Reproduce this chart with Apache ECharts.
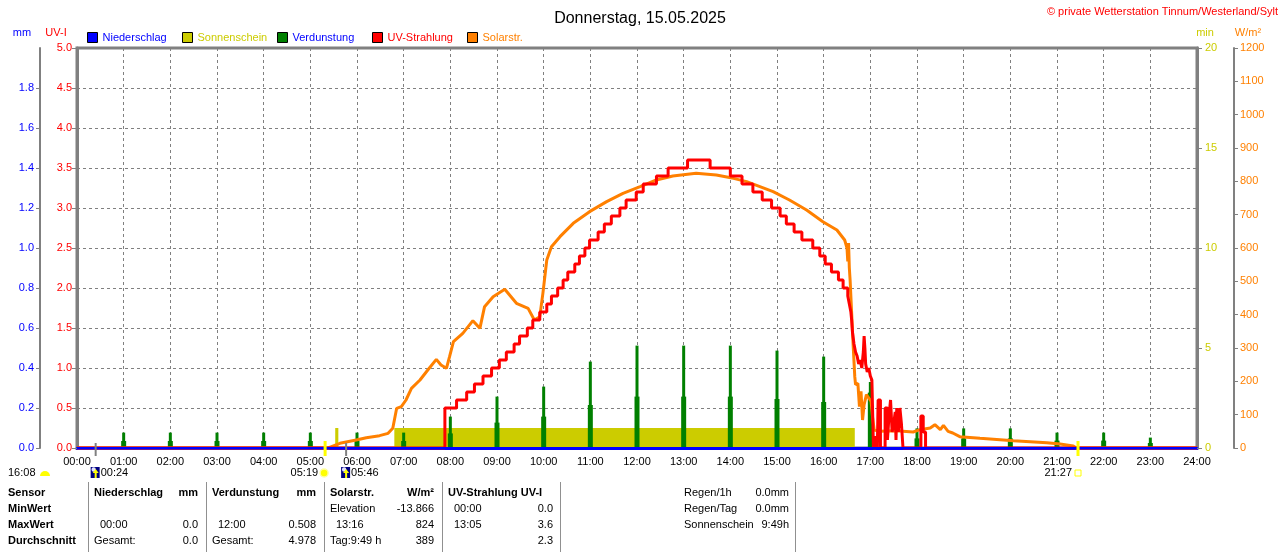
<!DOCTYPE html>
<html><head><meta charset="utf-8">
<script src="https://cdn.jsdelivr.net/npm/echarts/dist/echarts.min.js"></script>
<style>html,body{margin:0;padding:0;background:#fff}#c{width:1280px;height:552px}</style>
</head><body><div id="c"></div>
<script>
const FONT = '"Liberation Sans", Arial, sans-serif';
const titleText = 'Donnerstag, 15.05.2025';
const copyrightText = '\u00A9 private Wetterstation Tinnum/Westerland/Sylt';
const legendNames = ['Niederschlag','Sonnenschein','Verdunstung','UV-Strahlung','Solarstr.'];
const legendTextColors = ['#0000ff','#cccc00','#0000ff','#ff0000','#ff8000'];
const hourLabels = ['00:00','01:00','02:00','03:00','04:00','05:00','06:00','07:00','08:00','09:00','10:00','11:00','12:00','13:00','14:00','15:00','16:00','17:00','18:00','19:00','20:00','21:00','22:00','23:00','24:00'];

// precipitation (mm) - minutes of day
const rainData = [[0,0],[1440,0]];
// sunshine (min per minute) interval edges
const sunData = [[332,0],[332,1],[336,1],[336,0],[408,0],[408,1],[1000,1],[1000,0]];
// evaporation (mm) per hour
const evapTimes = [60,120,180,240,300,360,420,480,540,600,660,720,780,840,900,960,1020,1080,1140,1200,1260,1320,1380];
const evapMain  = [0.077,0.077,0.077,0.077,0.077,0.077,0.077,0.157,0.257,0.307,0.432,0.512,0.512,0.512,0.487,0.457,0.33,0.098,0.098,0.098,0.077,0.077,0.052];
const evapPart  = [0.035,0.035,0.035,0.035,0.035,0.035,0.035,0.073,0.127,0.157,0.215,0.257,0.257,0.257,0.245,0.23,0.277,0.048,0.048,0.048,0.037,0.037,0.025];
// UV index (step changes)
const uvData = [[0,0],[473,0.5],[488,0.6],[501,0.7],[511,0.8],[522,0.9],[533,1.0],[543,1.1],[552,1.2],[562,1.3],[569,1.4],[579,1.5],[586,1.6],[595,1.7],[604,1.8],[610,1.9],[618,2.0],[625,2.1],[631,2.2],[640,2.3],[646,2.4],[653,2.5],[659,2.6],[670,2.7],[678,2.8],[687,2.9],[698,3.0],[706,3.1],[719,3.2],[728,3.3],[745,3.4],[760,3.5],[785,3.6],[814,3.5],[840,3.4],[855,3.3],[869,3.2],[881,3.1],[893,3.0],[904,2.9],[912,2.8],[922,2.7],[932,2.6],[946,2.5],[955,2.4],[962,2.3],[970,2.2],[979,2.1],[985,2.0],[991,1.9],[993,1.8],[995,1.7],[996,1.6],[997,1.45],[999,1.3],[1001,1.2],[1003,1.15],[1005,1.05],[1007,1.1],[1009,1.0],[1011,1.2],[1012,1.4],[1013,1.25],[1014,1.05],[1016,0.95],[1018,1.0],[1020,0.9],[1022,0.85],[1024,0],[1027,0.15],[1029,0],[1030,0.6],[1033,0],[1039,0.5],[1042,0.1],[1044,0.4],[1046,0.6],[1048,0.2],[1050,0.3],[1052,0.45],[1053,0.1],[1054,0.5],[1056,0.2],[1058,0.5],[1060,0.3],[1062,0],[1085,0.4],[1088,0.2],[1091,0],[1440,0]];
// solar radiation (W/m2)
const solarData = [[0,0],[323,0],[325,6],[338,14],[359,24],[372,31],[389,37],[400,44],[406,59],[411,119],[417,124],[423,144],[430,179],[441,204],[451,234],[462,266],[468,249],[475,239],[479,274],[484,319],[496,344],[509,382],[518,359],[524,424],[535,454],[550,476],[565,434],[580,419],[588,384],[595,394],[599,464],[604,564],[610,604],[621,634],[638,674],[659,709],[681,739],[702,764],[724,784],[745,804],[766,816],[796,824],[822,819],[844,809],[861,799],[878,784],[895,769],[916,744],[938,714],[959,679],[977,654],[987,624],[990,600],[991,560],[992,615],[993,540],[994,504],[996,404],[998,304],[1000,214],[1001,190],[1004,194],[1006,124],[1008,170],[1010,84],[1012,130],[1015,160],[1018,150],[1021,140],[1023,90],[1025,54],[1032,50],[1053,52],[1075,48],[1084,55],[1097,60],[1103,70],[1110,55],[1114,68],[1120,50],[1126,45],[1135,34],[1161,29],[1204,22],[1247,16],[1264,12],[1281,6],[1285,0],[1440,0]];

// astronomical events below axis
const sunRise = {t:319, label:'05:19'};
const sunSet  = {t:1287, label:'21:27'};
const moonA   = {t:24, label:'00:24'};
const moonB   = {t:346, label:'05:46'};
const moonPrev = '16:08';

// table texts
const rowLabels = ['Sensor','MinWert','MaxWert','Durchschnitt'];
const colNied = [['Niederschlag','mm'],['',''],['00:00','0.0'],['Gesamt:','0.0']];
const colVerd = [['Verdunstung','mm'],['',''],['12:00','0.508'],['Gesamt:','4.978']];
const colSol  = [['Solarstr.','W/m\u00B2'],['Elevation','-13.866'],['13:16','824'],['Tag:9:49 h','389']];
const colUV   = [['UV-Strahlung UV-I',''],['00:00','0.0'],['13:05','3.6'],['','2.3']];
const extraInfo = [['Regen/1h','0.0mm'],['Regen/Tag','0.0mm'],['Sonnenschein','9:49h']];

const chart = echarts.init(document.getElementById('c'));
const grey = '#808080';
const dash = [3,3];

const option = {
  animation:false,
  textStyle:{fontFamily:FONT},
  title:{text:titleText,left:'center',top:6,textStyle:{fontSize:16,fontWeight:'normal',color:'#000',fontFamily:FONT}},
  legend: legendNames.map((n,i)=>({data:[n],left:87+95*i,top:32,padding:0,itemWidth:10,itemHeight:10,icon:'rect',selectedMode:false,
    textStyle:{color:legendTextColors[i],fontSize:11,fontFamily:FONT},itemStyle:{borderColor:'#000',borderWidth:1}})),
  grid:{left:77,right:83,top:48,bottom:104,show:true,borderColor:grey,borderWidth:3,backgroundColor:'transparent'},
  xAxis:{type:'value',min:0,max:1440,interval:60,
    axisLine:{show:true,lineStyle:{color:'#0000ff',width:3}},axisTick:{show:false},
    axisLabel:{margin:8,color:'#000',fontSize:11,fontFamily:FONT,formatter:v=>hourLabels[Math.round(v/60)]},
    splitLine:{show:true,lineStyle:{color:grey,type:dash,width:1}}},
  yAxis:[
    {type:'value',position:'left',offset:0,min:0,max:5,interval:0.5,
      axisLine:{show:true,lineStyle:{color:grey,width:3}},axisTick:{show:true,length:5,lineStyle:{color:grey}},
      axisLabel:{color:'#ff0000',fontSize:11,margin:5,formatter:v=>v.toFixed(1)},
      splitLine:{show:true,lineStyle:{color:grey,type:dash,width:1}}},
    {type:'value',position:'left',offset:37,min:0,max:2,interval:0.2,
      axisLine:{show:true,lineStyle:{color:grey,width:2}},axisTick:{show:true,length:4,lineStyle:{color:grey}},
      axisLabel:{color:'#0000ff',fontSize:11,margin:6,showMaxLabel:false,formatter:v=>v.toFixed(1)},
      splitLine:{show:false}},
    {type:'value',position:'right',offset:0,min:0,max:20,interval:5,
      axisLine:{show:true,lineStyle:{color:grey,width:3}},axisTick:{show:true,length:5,lineStyle:{color:grey}},
      axisLabel:{color:'#cccc00',fontSize:11,margin:8,formatter:v=>String(v)},splitLine:{show:false}},
    {type:'value',position:'right',offset:37,min:0,max:1200,interval:100,
      axisLine:{show:true,lineStyle:{color:grey,width:2}},axisTick:{show:true,length:4,lineStyle:{color:grey}},
      axisLabel:{color:'#ff8000',fontSize:11,margin:6,formatter:v=>String(v)},splitLine:{show:false}}
  ],
  series:[
    {name:'Sonnenschein',type:'line',yAxisIndex:2,data:sunData,symbol:'none',z:1,
      lineStyle:{width:0,color:'#cccc00'},itemStyle:{color:'#cccc00'},areaStyle:{color:'#cccc00',opacity:1}},
    {name:'Verdunstung',type:'custom',yAxisIndex:1,z:2,itemStyle:{color:'#008000'},
      encode:{x:0,y:1},
      data:evapTimes.map((t,i)=>[t,evapMain[i],evapPart[i]]),
      renderItem:(params,api)=>{
        const t=api.value(0),hi=api.value(1),lo=api.value(2);
        const b=api.coord([t,0]),ph=api.coord([t,hi]),pl=api.coord([t,lo]);
        const col='#008000';
        return {type:'group',children:[
          {type:'rect',shape:{x:b[0]-2.5,y:pl[1],width:5,height:b[1]-pl[1]},style:{fill:col}},
          {type:'rect',shape:{x:b[0]-1.5,y:ph[1],width:3,height:b[1]-ph[1]},style:{fill:col}}
        ]};
      }},
    {name:'Solarstr.',type:'line',yAxisIndex:3,data:solarData,symbol:'none',z:3,
      lineStyle:{color:'#ff8000',width:3},itemStyle:{color:'#ff8000'}},
    {name:'UV-Strahlung',type:'line',yAxisIndex:0,step:'end',data:uvData,symbol:'none',z:4,
      lineStyle:{color:'#ff0000',width:3},itemStyle:{color:'#ff0000'}},
    {name:'Niederschlag',type:'line',yAxisIndex:1,data:rainData,symbol:'none',z:5,clip:false,
      lineStyle:{color:'#0000ff',width:2},itemStyle:{color:'#0000ff'}}
  ]
};
chart.setOption(option);

const px = t => chart.convertToPixel({xAxisIndex:0}, t);
const f11 = '11px ' + FONT;
const b11 = 'bold 11px ' + FONT;
function txt(text,x,y,color,align,font){
  return {type:'text',silent:true,style:{text:text,x:x,y:y,fill:color||'#000',font:font||f11,textAlign:align||'left',textVerticalAlign:'middle',verticalAlign:'middle'}};
}
const g = [];
// axis titles & copyright
g.push(txt('mm',22,33,'#0000ff','center'));
g.push(txt('UV-I',56,33,'#ff0000','center'));
g.push(txt('min',1205,33,'#cccc00','center'));
g.push(txt('W/m\u00B2',1248,33,'#ff8000','center'));
g.push(txt(copyrightText,1278,12,'#ff0000','right'));

// sun / moon markers
[sunRise,sunSet].forEach(e=>{
  const x=px(e.t);
  g.push({type:'line',silent:true,z:20,shape:{x1:x,y1:441,x2:x,y2:456},style:{stroke:'#ffff00',lineWidth:3}});
});
[moonA,moonB].forEach(e=>{
  const x=px(e.t);
  g.push({type:'line',silent:true,z:20,shape:{x1:x,y1:443,x2:x,y2:456},style:{stroke:grey,lineWidth:2}});
  g.push({type:'rect',silent:true,shape:{x:x-5,y:467,width:9,height:11},style:{fill:'#000080'}});
  g.push({type:'circle',silent:true,shape:{cx:x-2,cy:469.5,r:2.2},style:{fill:'#e0e0ff'}});
  g.push({type:'polygon',silent:true,shape:{points:[[x,469],[x+3,473],[x+1,473],[x+1,478],[x-1,478],[x-1,473],[x-3,473]]},style:{fill:'#ffff00'}});
  g.push(txt(e.label,x+5,473,'#000','left'));
});
{
  const x=px(sunRise.t);
  g.push({type:'circle',silent:true,shape:{cx:x-1,cy:473,r:4},style:{fill:'#ffff00',stroke:'#ffffa0',lineWidth:1.5}});
  g.push(txt(sunRise.label,x-7,473,'#000','right'));
  const x2=px(sunSet.t);
  g.push({type:'rect',silent:true,shape:{x:x2-3,y:470,width:6,height:6},style:{fill:'#fff',stroke:'#ffff00',lineWidth:1}});
  g.push(txt(sunSet.label,x2-6,473,'#000','right'));
}
g.push(txt(moonPrev,8,473,'#000','left'));
g.push({type:'sector',silent:true,shape:{cx:45,cy:476,r:5,startAngle:Math.PI,endAngle:2*Math.PI},style:{fill:'#ffff00'}});

// table
const rowY=[493,509,525,541];
rowLabels.forEach((r,i)=>g.push(txt(r,8,rowY[i],'#000','left',b11)));
function col(data,xl,xr,indent){
  data.forEach((c,i)=>{
    const font=i===0?b11:f11;
    const isTime=(i>0 && /^\d\d:\d\d$/.test(c[0]));
    if(c[0]) g.push(txt(c[0],xl+(isTime?indent:0),rowY[i],'#000','left',font));
    if(c[1]) g.push(txt(c[1],xr,rowY[i],'#000','right',font));
  });
}
col(colNied,94,198,6);
col(colVerd,212,316,6);
col(colSol,330,434,6);
col(colUV,448,553,6);
extraInfo.forEach((c,i)=>{g.push(txt(c[0],684,rowY[i],'#000','left'));g.push(txt(c[1],789,rowY[i],'#000','right'));});
[88,206,324,442,560,795].forEach(x=>g.push({type:'line',silent:true,shape:{x1:x+0.5,y1:482,x2:x+0.5,y2:552},style:{stroke:'#909090',lineWidth:1}}));

chart.setOption({graphic:g});
</script>
</body></html>
